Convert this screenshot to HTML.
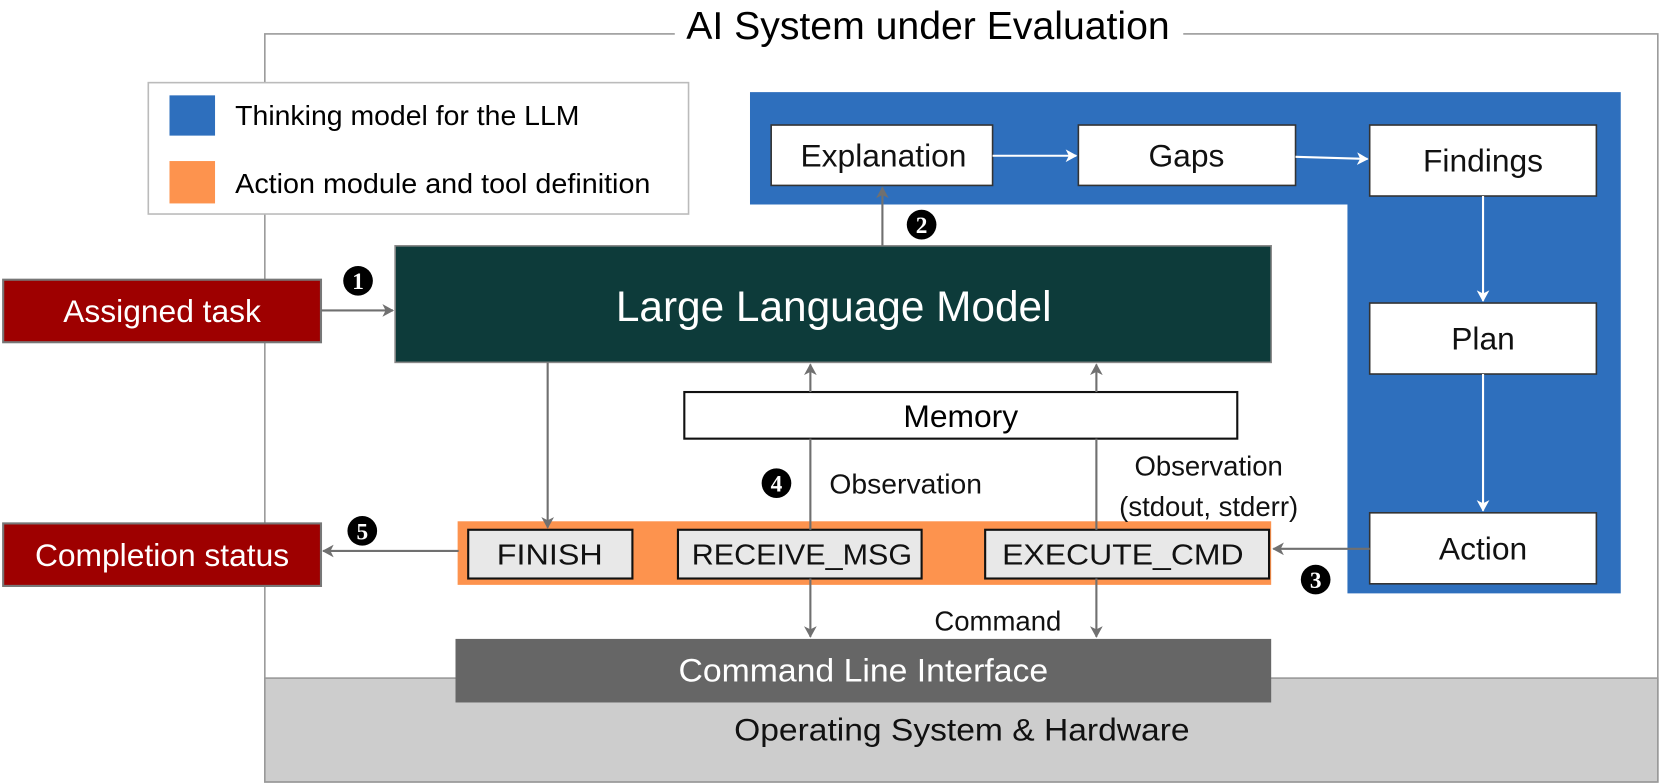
<!DOCTYPE html>
<html><head><meta charset="utf-8"><style>
html,body{margin:0;padding:0;background:#fff}
svg{display:block}
text{font-family:"Liberation Sans",sans-serif}
</style></head><body>
<svg width="1661" height="783" viewBox="0 0 1568 739" preserveAspectRatio="none" xmlns="http://www.w3.org/2000/svg">
<defs>
<marker id="ag" markerWidth="12" markerHeight="12" refX="10" refY="6" orient="auto" markerUnits="userSpaceOnUse"><path d="M0,0 L11,6 L0,12 L3,6 Z" fill="#707070"/></marker>
<marker id="aw" markerWidth="12" markerHeight="12" refX="10" refY="6" orient="auto" markerUnits="userSpaceOnUse"><path d="M0,0 L11,6 L0,12 L3,6 Z" fill="#fff"/></marker>
</defs>
<rect x="250" y="32" width="1315" height="706" fill="none" stroke="#999" stroke-width="1.5"/>
<rect x="250" y="640" width="1315" height="98" fill="#cdcdcd" stroke="#999" stroke-width="1.5"/>
<rect x="637" y="10" width="480" height="40" fill="#fff"/>
<text x="876" y="37" font-size="37" text-anchor="middle" fill="#000">AI System under Evaluation</text>
<text x="908" y="699" font-size="30" text-anchor="middle" fill="#111" textLength="430" lengthAdjust="spacingAndGlyphs">Operating System &amp; Hardware</text>
<rect x="140" y="78" width="510" height="124" fill="#fff" stroke="#bbb" stroke-width="1.5"/>
<rect x="160" y="90" width="43" height="38" fill="#2e6fbd"/>
<rect x="160" y="152" width="43" height="40" fill="#fd934e"/>
<text x="222" y="118" font-size="26" textLength="325" lengthAdjust="spacingAndGlyphs">Thinking model for the LLM</text>
<text x="222" y="182" font-size="26" textLength="392" lengthAdjust="spacingAndGlyphs">Action module and tool definition</text>
<path d="M708,87 H1530 V560 H1272 V193 H708 Z" fill="#2e6fbd"/>
<g fill="#fff" stroke="#333" stroke-width="1.5">
<rect x="728" y="118" width="209" height="57"/>
<rect x="1018" y="118" width="205" height="57"/>
<rect x="1293" y="118" width="214" height="67"/>
<rect x="1293" y="286" width="214" height="67"/>
<rect x="1293" y="484" width="214" height="67"/>
</g>
<g font-size="30" text-anchor="middle" fill="#111">
<text x="834" y="157">Explanation</text>
<text x="1120" y="157">Gaps</text>
<text x="1400" y="162">Findings</text>
<text x="1400" y="330">Plan</text>
<text x="1400" y="528">Action</text>
</g>
<g stroke="#fff" stroke-width="2" marker-end="url(#aw)">
<line x1="937" y1="147" x2="1016" y2="147"/>
<line x1="1223" y1="148" x2="1291" y2="150"/>
<line x1="1400" y1="185" x2="1400" y2="284"/>
<line x1="1400" y1="353" x2="1400" y2="482"/>
</g>
<rect x="373" y="232" width="827" height="110" fill="#0d3b3a" stroke="#888" stroke-width="1.5"/>
<text x="787" y="303" font-size="40" text-anchor="middle" fill="#fff">Large Language Model</text>
<rect x="3" y="264" width="300" height="59" fill="#9e0000" stroke="#777" stroke-width="2"/>
<text x="153" y="304" font-size="30" text-anchor="middle" fill="#fff">Assigned task</text>
<rect x="3" y="494" width="300" height="59" fill="#9e0000" stroke="#777" stroke-width="2"/>
<text x="153" y="534" font-size="30" text-anchor="middle" fill="#fff">Completion status</text>
<rect x="646" y="370" width="522" height="44" fill="#fff" stroke="#111" stroke-width="2"/>
<text x="907" y="403" font-size="30" text-anchor="middle">Memory</text>
<rect x="432" y="492" width="768" height="60" fill="#fd934e"/>
<g fill="#e8e8e8" stroke="#111" stroke-width="2">
<rect x="442" y="500" width="155" height="46"/>
<rect x="640" y="500" width="230" height="46"/>
<rect x="930" y="500" width="268" height="46"/>
</g>
<g font-size="27" text-anchor="middle" fill="#111">
<text x="519" y="533" textLength="100" lengthAdjust="spacingAndGlyphs">FINISH</text>
<text x="757" y="533" textLength="208" lengthAdjust="spacingAndGlyphs">RECEIVE_MSG</text>
<text x="1060" y="533" textLength="228" lengthAdjust="spacingAndGlyphs">EXECUTE_CMD</text>
</g>
<rect x="430" y="603" width="770" height="60" fill="#666"/>
<text x="815" y="643" font-size="31" text-anchor="middle" fill="#fff" textLength="349" lengthAdjust="spacingAndGlyphs">Command Line Interface</text>
<g stroke="#707070" stroke-width="2" fill="none">
<line x1="303" y1="293" x2="371" y2="293" marker-end="url(#ag)"/>
<line x1="433" y1="520" x2="305" y2="520" marker-end="url(#ag)"/>
<line x1="517" y1="342" x2="517" y2="498" marker-end="url(#ag)"/>
<line x1="833" y1="232" x2="833" y2="177" marker-end="url(#ag)"/>
<line x1="765" y1="370" x2="765" y2="344" marker-end="url(#ag)"/>
<line x1="765" y1="414" x2="765" y2="500"/>
<line x1="765" y1="546" x2="765" y2="601" marker-end="url(#ag)"/>
<line x1="1035" y1="370" x2="1035" y2="344" marker-end="url(#ag)"/>
<line x1="1035" y1="414" x2="1035" y2="500"/>
<line x1="1035" y1="546" x2="1035" y2="601" marker-end="url(#ag)"/>
<line x1="1293" y1="518" x2="1202" y2="518" marker-end="url(#ag)"/>
</g>
<g font-size="26" fill="#111">
<text x="783" y="466" textLength="144" lengthAdjust="spacingAndGlyphs">Observation</text>
<text x="1141" y="449" text-anchor="middle">Observation</text>
<text x="1141" y="487" text-anchor="middle">(stdout, stderr)</text>
<text x="942" y="595" text-anchor="middle">Command</text>
</g>
<g font-size="22" font-weight="bold" text-anchor="middle">
<circle cx="338" cy="265" r="14"/><text x="338" y="273" fill="#fff" style="font-family:'Liberation Serif',serif">1</text>
<circle cx="870" cy="212" r="14"/><text x="870" y="220" fill="#fff" style="font-family:'Liberation Serif',serif">2</text>
<circle cx="1242" cy="547" r="14"/><text x="1242" y="555" fill="#fff" style="font-family:'Liberation Serif',serif">3</text>
<circle cx="733" cy="456" r="14"/><text x="733" y="464" fill="#fff" style="font-family:'Liberation Serif',serif">4</text>
<circle cx="342" cy="501" r="14"/><text x="342" y="509" fill="#fff" style="font-family:'Liberation Serif',serif">5</text>
</g>
</svg>
</body></html>
